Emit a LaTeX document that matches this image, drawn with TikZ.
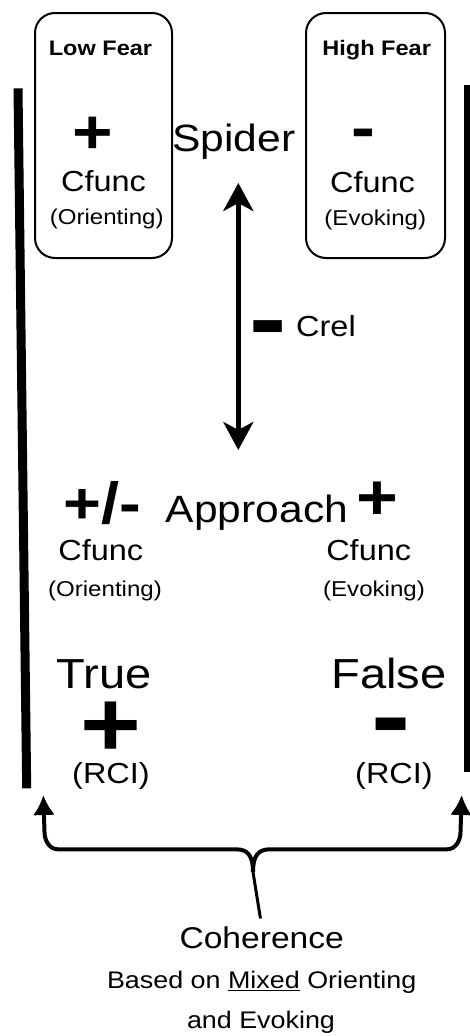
\documentclass[tikz,border=0pt]{standalone}
\usepackage{fontspec}
\setmainfont{Liberation Sans}[FakeStretch=1.12]
\usetikzlibrary{arrows.meta,positioning}
\newcommand{\fsz}[1]{\fontsize{#1}{#1}\selectfont}
\tikzset{
  fearbox/.style={draw, line width=2pt, rounded corners=20pt, minimum height=245pt, inner sep=0pt},
  txt/.style={anchor=base, inner sep=0pt},
  fear/.style={txt, font=\fsz{21}\bfseries},
  big/.style={txt, font=\fsz{38}},
  mid/.style={txt, font=\fsz{29}},
  note/.style={txt, font=\fsz{21.5}},
  plus/.style={txt, font=\fsz{#1}\bfseries, text height=0.6*#1pt, text depth=-0.08*#1pt},
  minus/.style={txt, font=\fsz{#1}\bfseries, text height=0.32*#1pt, text depth=-0.18*#1pt},
  crelarrow/.style={line width=5pt, {Stealth[length=28pt,width=30pt,inset=8pt]}-{Stealth[length=28pt,width=30pt,inset=8pt]}},
  brace/.style={line width=4pt, line join=round},
  bar/.style={line width=9pt}
}
\begin{document}
\begin{tikzpicture}[x=1pt, y=-1pt]
\useasboundingbox (0,0) rectangle (470,1036);
% fear boxes
\node[fearbox, minimum width=137pt] (lowbox) at (103.5,135.5) {};
\node[fearbox, minimum width=139pt] (highbox) at (375.5,135.5) {};
\node[fear] (lowfear) at (100.5,55) {Low Fear};
\node[fear] (highfear) at (376.7,55) {High Fear};
\node[plus=62] (plusA) at (93,153.7) {+};
\node[minus=64] (minusA) at (363,149) {-};
\node[big] (spider) at (234,151.7) {Spider};
\node[mid] (cfuncA) at (103.5,191.7) {Cfunc};
\node[mid] (cfuncB) at (372.5,192) {Cfunc};
\node[note] (orientA) at (106.7,224.5) {(Orienting)};
\node[note] (evokeA) at (375.3,225) {(Evoking)};
% crel arrow
\coordinate (crelT) at (238.3,183);
\coordinate (crelB) at (238.3,450);
\draw[crelarrow] (crelT) -- (crelB);
\node[minus=100] (crelsign) at (268,352.7) {-};
\node[mid] (crel) at (326,336.7) {Crel};
% approach
\node[plus=58] (plusminus) at (102.5,523) {+/-};
\node[big] (approach) at (257,522.7) {Approach};
\node[plus=64] (plusB) at (377,519.4) {+};
\node[mid] (cfuncC) at (100.8,560) {Cfunc};
\node[mid] (cfuncD) at (368.7,560) {Cfunc};
\node[note] (orientB) at (105,596) {(Orienting)};
\node[note] (evokeB) at (374,596) {(Evoking)};
% true / false
\node[txt, font=\fsz{42}] (true) at (104,688.3) {True};
\node[txt, font=\fsz{42}] (false) at (389,688) {False};
\node[plus=93] (plusC) at (111,756.5) {+};
\node[minus=105] (minusC) at (391,751) {-};
\node[mid] (rciA) at (111,783) {(RCI)};
\node[mid] (rciB) at (394,783) {(RCI)};
% side bars
\draw[bar] (18,88.3) -- (26.7,788.3);
\draw[bar, line width=7pt] (467.5,85) -- (467.5,772);
% coherence
\node[txt, font=\fsz{30}] (coherence) at (261.7,948.3) {Coherence};
\node[txt, font=\fsz{24}] (basis) at (261.7,988.3) {Based on \underline{Mixed} Orienting};
\node[txt, font=\fsz{24}] (basisB) at (261,1028) {and Evoking};
\coordinate (tipL) at (43.3,795);
\coordinate (tipR) at (461.7,795);
\coordinate (braceTip) at (253,872);
\draw[brace, {Latex[length=20pt,width=22pt]}-] (tipL) -- (44.5,832) to[out=-90,in=180] (58,849.3) -- (236,849.3) .. controls (248,849.3) and (253,856) .. (braceTip);
\draw[brace, {Latex[length=20pt,width=22pt]}-] (tipR) -- (460.5,832) to[out=-90,in=0] (447,849.3) -- (270,849.3) .. controls (258,849.3) and (253,856) .. (braceTip);
\draw[line width=3pt, shorten >=8pt] (braceTip) -- (coherence.north);
\end{tikzpicture}
\end{document}
